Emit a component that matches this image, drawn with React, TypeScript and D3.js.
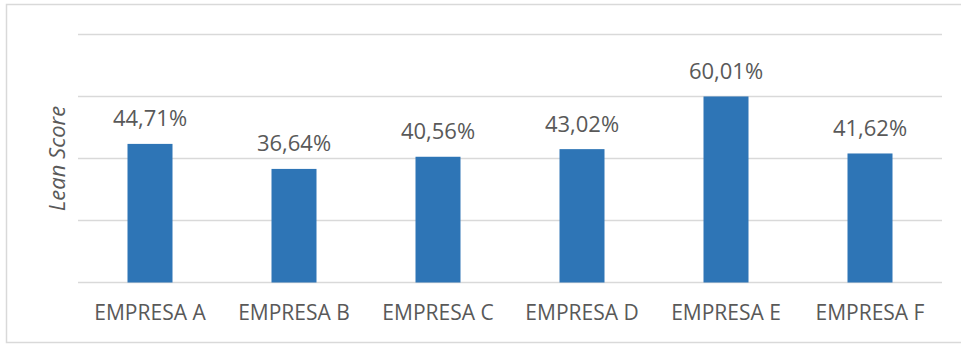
import React from "react";
import * as d3 from "d3";

const categories = ["EMPRESA A", "EMPRESA B", "EMPRESA C", "EMPRESA D", "EMPRESA E", "EMPRESA F"];
const values = [44.71, 36.64, 40.56, 43.02, 60.01, 41.62];
const yTicks = [0, 20, 40, 60, 80];
const yTitle = "Lean Score";

const W = 961;
const H = 345;
const left = 78;
const right = 942;
const top = 34.5;
const bottom = 282.5;
const FONT = "'Open Sans', 'Noto Sans', sans-serif";
const TEXT = "#595959";
const GRID = "#d9d9d9";
const BAR = "#2e75b6";

export default function App() {
  const x = d3.scaleBand<string>().domain(categories).range([left, right]).paddingInner(0.6875).paddingOuter(0.34375);
  const y = d3.scaleLinear().domain([0, 80]).range([bottom, top]);
  const fmt = (v: number) => v.toFixed(2).replace(".", ",") + "%";

  return (
    <svg width={W} height={H} style={{ position: "fixed", left: 0, top: 0, background: "#fff" }}>
      <rect x={6.5} y={4.5} width={W + 10} height={338} fill="#fff" stroke={GRID} strokeWidth={1.5} />
      {yTicks.map((t) => (
        <line key={t} x1={left} x2={right} y1={y(t)} y2={y(t)} stroke={GRID} strokeWidth={1.5} />
      ))}
      {categories.map((c, i) => (
        <g key={c}>
          <rect x={x(c)} y={y(values[i])} width={x.bandwidth()} height={y(0) - y(values[i])} fill={BAR} />
          <text
            x={(x(c) as number) + x.bandwidth() / 2}
            y={y(values[i]) - 17.5}
            textAnchor="middle"
            fontFamily={FONT}
            fontSize={22}
            fill={TEXT}
          >
            {fmt(values[i])}
          </text>
          <text
            x={(x(c) as number) + x.bandwidth() / 2}
            y={320}
            textAnchor="middle"
            fontFamily={FONT}
            fontSize={21}
            fill={TEXT}
          >
            {c}
          </text>
        </g>
      ))}
      <text
        transform={`translate(65, ${(top + bottom) / 2}) rotate(-90)`}
        textAnchor="middle"
        fontFamily={FONT}
        fontStyle="italic"
        fontSize={22}
        fill={TEXT}
      >
        {yTitle}
      </text>
    </svg>
  );
}
